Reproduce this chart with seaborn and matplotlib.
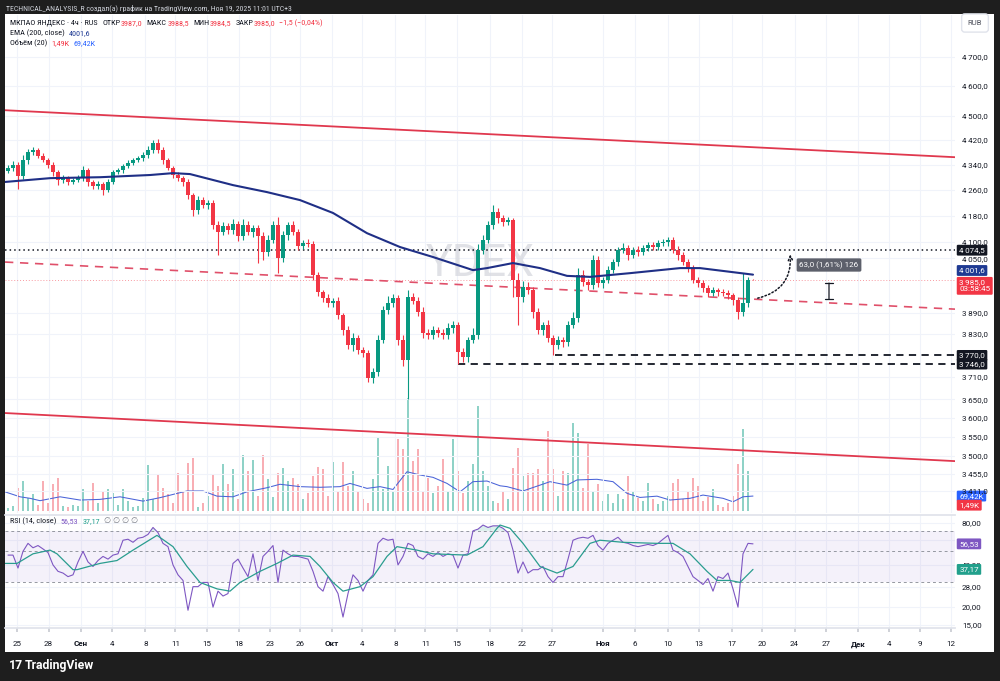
import numpy as np
import matplotlib
matplotlib.use("Agg")
import matplotlib.pyplot as plt
import seaborn as sns
from matplotlib.patches import Rectangle, FancyArrowPatch
from matplotlib.ticker import NullLocator

# ------------------------------------------------------
# Data read off the 4h MOEX:YDEX chart (Aug 22 .. Nov 19)
# ------------------------------------------------------
first_open = 4320
close = [4330, 4340, 4303, 4355, 4380, 4387, 4368, 4355, 4340, 4316,
         4291, 4297, 4285, 4291, 4297, 4323, 4285, 4272, 4278, 4260,
         4285, 4316, 4323, 4336, 4346, 4355, 4361, 4371, 4387, 4410,
         4387, 4355, 4330, 4307, 4297, 4285, 4244, 4197, 4228, 4212,
         4219, 4150, 4129, 4147, 4135, 4153, 4117, 4150, 4129, 4141,
         4117, 4069, 4105, 4150, 4051, 4120, 4150, 4129, 4087, 4096,
         4093, 4000, 3950, 3933, 3920, 3925, 3883, 3841, 3799, 3818,
         3785, 3776, 3707, 3724, 3813, 3898, 3920, 3933, 3813, 3757,
         3936, 3925, 3892, 3833, 3827, 3841, 3833, 3827, 3846, 3855,
         3779, 3765, 3813, 3827, 4075, 4105, 4150, 4190, 4172, 4160,
         4165, 3986, 3936, 3966, 3956, 3892, 3841, 3855, 3818, 3799,
         3813, 3807, 3855, 3875, 4000, 3980, 3970, 4045, 3977, 3986,
         4015, 4039, 4075, 4081, 4060, 4075, 4069, 4081, 4090, 4084,
         4096, 4099, 4105, 4075, 4060, 4039, 4021, 3986, 3977, 3962,
         3947, 3956, 3950, 3947, 3941, 3927, 3892, 3920, 3987, 3985]
up_wick = [10, 12, 8, 15, 12, 9, 8, 10, 6, 8,
           7, 9, 6, 8, 10, 12, 7, 6, 9, 8,
           10, 8, 6, 7, 9, 6, 8, 10, 12, 9,
           14, 10, 8, 6, 9, 7, 8, 6, 12, 10,
           9, 8, 14, 12, 10, 15, 9, 18, 12, 10,
           11, 12, 16, 12, 25, 14, 10, 12, 9, 10,
           12, 8, 10, 6, 12, 8, 10, 8, 12, 15,
           10, 8, 9, 12, 14, 12, 18, 12, 10, 14,
           20, 12, 10, 14, 10, 12, 9, 10, 14, 12,
           8, 12, 10, 20, 18, 16, 14, 22, 14, 10,
           12, 8, 20, 16, 14, 10, 12, 10, 14, 8,
           12, 10, 12, 18, 20, 14, 10, 16, 12, 10,
           12, 10, 8, 14, 10, 9, 12, 10, 8, 9,
           8, 10, 9, 10, 12, 8, 10, 9, 10, 8,
           9, 8, 7, 8, 10, 6, 10, 86, 8, 1.5]
low_wick = [8, 10, 40, 8, 12, 10, 7, 8, 10, 12,
            15, 9, 10, 8, 6, 10, 12, 8, 9, 16,
            8, 7, 6, 9, 8, 6, 7, 8, 9, 8,
            10, 12, 8, 9, 10, 12, 14, 18, 12, 10,
            12, 10, 69, 10, 12, 10, 14, 12, 10, 16,
            80, 25, 12, 10, 45, 12, 14, 10, 12, 10,
            10, 14, 12, 10, 14, 12, 10, 14, 12, 16,
            12, 10, 10, 14, 10, 8, 10, 12, 14, 17,
            107, 10, 12, 14, 10, 12, 10, 12, 10, 14,
            33, 14, 12, 8, 10, 12, 8, 10, 14, 12,
            10, 50, 81, 14, 12, 16, 12, 14, 10, 29,
            12, 14, 10, 8, 10, 12, 14, 10, 12, 14,
            10, 8, 12, 10, 14, 10, 12, 10, 9, 10,
            8, 10, 12, 10, 14, 10, 12, 10, 12, 10,
            10, 9, 10, 8, 12, 14, 20, 10, 12, 0.5]
volume_k = [14, 23, 106, 139, 60, 79, 28, 139, 37, 125,
            153, 23, 19, 28, 23, 102, 46, 130, 37, 93,
            102, 83, 28, 102, 46, 19, 23, 60, 213, 56,
            167, 106, 79, 37, 176, 93, 222, 245, 19, 37,
            69, 171, 116, 218, 125, 194, 56, 259, 185, 236,
            69, 259, 148, 65, 176, 199, 139, 153, 125, 56,
            83, 162, 204, 194, 69, 227, 93, 227, 116, 185,
            93, 56, 37, 148, 343, 102, 208, 93, 333, 287,
            523, 231, 287, 93, 153, 83, 116, 241, 93, 333,
            185, 83, 139, 218, 486, 185, 116, 46, 37, 93,
            56, 199, 292, 162, 176, 176, 194, 139, 370, 194,
            69, 185, 176, 407, 361, 106, 310, 93, 125, 46,
            79, 37, 79, 56, 162, 93, 60, 46, 130, 56,
            32, 46, 69, 130, 148, 56, 93, 153, 116, 46,
            65, 102, 28, 19, 37, 69, 218, 380, 185, 1.49]
rsi = [47, 47, 38, 50, 57, 53, 55, 52, 49, 40,
       36, 35, 33, 34, 42, 50, 42, 39, 43, 46,
       44, 47, 48, 60, 61, 58, 62, 63, 66, 74,
       68, 57, 54, 40, 34, 31, 19, 28, 28, 30,
       30, 20, 26, 24, 25, 41, 44, 38, 33, 48,
       31, 46, 50, 55, 30, 51, 48, 46, 46, 45,
       44, 36, 28, 26, 33, 29, 25, 17, 25, 34,
       31, 26, 31, 34, 57, 62, 60, 61, 40, 46,
       57, 55, 46, 44, 48, 46, 49, 46, 48, 47,
       38, 47, 48, 70, 72, 77, 74, 76, 76, 73,
       68, 51, 35, 42, 35, 37, 37, 39, 33, 30,
       33, 33, 44, 60, 62, 63, 62, 65, 55, 51,
       57, 60, 63, 58, 57, 55, 54, 55, 56, 55,
       57, 61, 65, 51, 49, 46, 39, 33, 31, 29,
       32, 26, 33, 32, 35, 27, 20, 48, 57, 56.53]

ema_x = [-0.6, 8.4, 18.4, 28.4, 33, 36.4, 45, 51.8, 58.4, 65, 71.8, 78.4,
         85, 93, 95.8, 101, 106.4, 111.8, 116.4, 124.4, 134.4, 138.4, 149]
ema_200 = [4285, 4297, 4300, 4307, 4313, 4310, 4275, 4253, 4228, 4188, 4126, 4084,
           4054, 4015, 4021, 4036, 4021, 3998, 3995, 4006, 4021, 4021, 4001.6]
vol_ma_x = [-0.6, 2.4, 4.4, 6.4, 10.4, 14.4, 18.4, 22.4, 27, 30.4,
            35.8, 39, 41.8, 45, 47.8, 51.8, 54.4, 58.4, 62.4, 66.4,
            68.4, 71.8, 74.4, 77, 79.8, 82.4, 85, 87.8, 90.4, 93,
            95.8, 98.4, 99.8, 103, 106.4, 108.4, 111.8, 113.8, 117.8, 121,
            123.8, 126.4, 129.8, 132.4, 136.4, 139, 143, 145, 147, 149]
vol_ma = [89, 66, 59, 48, 66, 51, 54, 66, 46, 62,
          93, 93, 69, 66, 89, 108, 124, 113, 110, 113,
          128, 105, 113, 100, 182, 167, 156, 128, 89, 136,
          139, 117, 113, 93, 120, 136, 120, 144, 147, 136,
          82, 63, 69, 51, 59, 74, 59, 43, 66, 69.42]
rsi_ma_x = [-0.6, 1.8, 5, 8.4, 9.8, 13, 13.8, 18.4, 21.8, 25,
            29.8, 33, 35.8, 38.4, 41.8, 44.4, 46.4, 50.4, 53.8, 57,
            60.4, 62.4, 65, 67, 70.4, 73, 75.8, 77.8, 81.8, 85,
            91.8, 95, 97.8, 98.4, 100.4, 103, 106.4, 109.8, 113, 116.4,
            118.4, 123, 129.8, 133, 136.4, 139.8, 141.8, 144.4, 146.4, 149]
rsi_ma = [41, 41, 48, 51, 48, 37, 37, 41, 43, 51,
          65, 54, 39, 30, 27, 26, 30, 36, 41, 47,
          46, 39, 30, 26, 28, 33, 46, 54, 51, 48,
          47, 54, 73, 77, 73, 57, 39, 35, 39, 57,
          60, 58, 57, 57, 48, 36, 31, 31, 30, 37.17]

price_ticks = [4700, 4600, 4500, 4420, 4340, 4260, 4180, 4100, 4050,
               3890, 3830, 3710, 3650, 3600, 3550, 3500, 3455, 3411]
rsi_ticks = [80, 60, 40, 28, 20, 15]
rsi_hidden = [60]          # label covered by the RSI value tag
date_pos = [1.84, 8.1, 14.6, 20.72, 27.48, 33.48, 39.86, 46.24, 52.48, 58.48,
            64.72, 70.72, 77.48, 83.48, 89.86, 96.36, 102.74, 108.86, 118.94, 125.32,
            131.94, 138.2, 144.7, 150.82, 157.32, 163.58, 169.96, 176.2, 182.32, 188.58]
date_labels = ["25", "28", "Сен", "4", "8", "11", "15", "18", "23", "26",
               "Окт", "4", "8", "11", "15", "18", "22", "27", "Ноя", "6",
               "10", "13", "17", "20", "24", "27", "Дек", "4", "9", "12"]
months = ["Сен", "Окт", "Ноя", "Дек"]

# drawings
channel_x = [-0.6, 189.4]
channel_upper = [4518, 4364]
channel_mid = [4039, 3901]
channel_lower = [3613, 3487]
resistance = 4074.5
support_lvls = [3770, 3746]
support_from = [109.4, 90]
last_price = 3985
measure_bar = 164.2
measure_lo, measure_hi = 3922, 3985
path_from = (149.4, 3931)
path_to = (156.4, 4070)

# ------------------------------------------------------
# styling
# ------------------------------------------------------
sns.set_theme(style="white")
plt.rcParams["font.family"] = ["Roboto", "DejaVu Sans"]
NARROW = ["Liberation Sans Narrow", "Roboto Condensed", "Roboto", "DejaVu Sans"]

UP, DOWN = "#089981", "#f23645"
INK = "#131722"
GRID = "#f0f3fa"
W, H = 1000, 681


def box(x0, y0, x1, y1):
    return [x0 / W, 1 - y1 / H, (x1 - x0) / W, (y1 - y0) / H]


def fmt(v, d=1, sep="\u2009"):
    return f"{v:,.{d}f}".replace(",", sep).replace(".", ",")


fig = plt.figure(figsize=(10, 6.81), dpi=100, facecolor="#1e1e1e")
fig.patches.append(Rectangle((5 / W, 1 - 652 / H), 989 / W, 638 / H,
                             transform=fig.transFigure, facecolor="white",
                             edgecolor="none", zorder=-10))

ax = fig.add_axes(box(5, 15, 955, 513))
axv = ax.twinx()
ax_r = fig.add_axes(box(5, 515, 955, 628), sharex=ax)
ax.set_zorder(axv.get_zorder() + 1)
for a in (ax, axv, ax_r):
    a.patch.set_visible(False)
    for s in a.spines.values():
        s.set_visible(False)

# ------------------------------------------------------
# candles
# ------------------------------------------------------
c = np.array(close, dtype=float)
o = np.r_[first_open, c[:-1]]
idx = np.arange(len(c))
rising = c >= o
cols = np.where(rising, UP, DOWN)
b_lo, b_hi = np.minimum(o, c), np.maximum(o, c)
hi = b_hi + np.array(up_wick)
lo = b_lo - np.array(low_wick)

ax.set_yscale("log")
ax.vlines(idx, lo, hi, colors=cols, lw=0.8, zorder=4)
ax.bar(idx, np.maximum(b_hi - b_lo, 0.6), bottom=b_lo, width=0.7, color=cols,
       linewidth=0, zorder=5)

sns.lineplot(x=ema_x, y=ema_200, ax=ax, color="#1f2f86", lw=1.5, sort=False,
             estimator=None, zorder=6)

# channel + levels
ax.plot(channel_x, channel_upper, color="#e0384e", lw=1.3, zorder=3)
ax.plot(channel_x, channel_lower, color="#e0384e", lw=1.3, zorder=3)
ax.plot(channel_x, channel_mid, color="#e0506a", lw=1.2, dashes=(5, 4), zorder=3)
ax.axhline(resistance, color=INK, lw=1.1, ls=(0, (1, 2)), zorder=3)
ax.axhline(last_price, color=DOWN, lw=0.7, ls=(0, (1, 2)), alpha=0.5, zorder=2)
for lvl, x0 in zip(support_lvls, support_from):
    ax.hlines(lvl, x0, channel_x[1], color=INK, lw=1.3, linestyles=(0, (4, 3)), zorder=3)

# projected move
ax.add_patch(FancyArrowPatch(path_from, path_to, connectionstyle="arc3,rad=0.45",
                             arrowstyle="->", mutation_scale=8, lw=1.1,
                             linestyle=(0, (1, 1.5)), color=INK, zorder=7))
ax.annotate("", xy=(measure_bar, measure_hi), xytext=(measure_bar, measure_lo),
            arrowprops=dict(arrowstyle="|-|,widthA=0.25,widthB=0.25", color=INK, lw=0.9),
            zorder=7)
ax.annotate(f"{fmt(measure_hi - measure_lo)} ({fmt((measure_hi - measure_lo) / measure_lo * 100, 2)}%) 126",
            xy=(measure_bar, measure_hi), xytext=(0, 11), textcoords="offset points",
            ha="center", va="center", fontsize=5.8, color="white",
            bbox=dict(boxstyle="round,pad=0.35,rounding_size=0.2", fc="#5d606b", ec="none"),
            zorder=8)

ax.text(0.5, 0.5, "YDEX", transform=ax.transAxes, ha="center", va="center",
        fontsize=32, color="#d6d8de", alpha=0.75, zorder=1)

ax.set_ylim(3356, 4847)
ax.set_xlim(channel_x)
ax.set_yticks(price_ticks)
ax.set_yticklabels([fmt(v) for v in price_ticks])
ax.yaxis.set_minor_locator(NullLocator())
ax.yaxis.tick_right()
ax.tick_params(axis="y", length=0, pad=5, labelsize=5.8, labelcolor=INK)
ax.tick_params(axis="x", length=0, labelbottom=False)
ax.grid(True, color=GRID, lw=0.8)
ax.set_xlabel("")
ax.set_ylabel("")

# ------------------------------------------------------
# volume overlay
# ------------------------------------------------------
vcols = np.where(rising, "#8fd2c7", "#f8aeb4")
axv.bar(idx, volume_k, width=0.45, color=vcols, linewidth=0)
sns.lineplot(x=vol_ma_x, y=vol_ma, ax=axv, color="#4a63d8", lw=0.75, sort=False,
             estimator=None)
axv.set_ylim(-9, 2296)
axv.set_yticks([])
axv.set_ylabel("")
axv.grid(False)

# ------------------------------------------------------
# RSI pane
# ------------------------------------------------------
ax_r.set_yscale("log")
ax_r.axhspan(30, 70, color="#7e57c2", alpha=0.08, lw=0)
for lvl in (70, 50, 30):
    ax_r.axhline(lvl, color="#9598a1", lw=0.7, dashes=(3, 3))
r = np.array(rsi)
ax_r.fill_between(idx, 70, r, where=r > 70, interpolate=True, color=UP, alpha=0.15, lw=0)
sns.lineplot(x=idx, y=rsi, ax=ax_r, color="#7e57c2", lw=0.8)
sns.lineplot(x=rsi_ma_x, y=rsi_ma, ax=ax_r, color="#2a9d8f", lw=0.9, sort=False,
             estimator=None)
ax_r.set_ylim(14.2, 90.8)
ax_r.set_yticks(rsi_ticks)
ax_r.set_yticklabels(["" if v in rsi_hidden else fmt(v, 2) for v in rsi_ticks])
ax_r.yaxis.set_minor_locator(NullLocator())
ax_r.yaxis.tick_right()
ax_r.tick_params(axis="y", length=0, pad=5, labelsize=5.8, labelcolor=INK)
ax_r.set_xticks(date_pos)
ax_r.set_xticklabels(date_labels)
ax_r.tick_params(axis="x", length=3, color="#c9ccd3", pad=6, labelsize=5.8,
                 labelcolor=INK, bottom=True)
for t in ax_r.get_xticklabels():
    if t.get_text() in months:
        t.set_fontweight("bold")
ax_r.grid(True, color=GRID, lw=0.8)
ax_r.spines["top"].set_visible(True)
ax_r.spines["top"].set_color("#e0e3eb")
ax_r.spines["bottom"].set_visible(True)
ax_r.spines["bottom"].set_color("#e0e3eb")
ax_r.set_xlabel("")
ax_r.set_ylabel("")
ax_r.set_xlim(channel_x)


# ------------------------------------------------------
# price-scale tags
# ------------------------------------------------------
def tag(a, y, text, fc, dy=0, tc="white"):
    a.annotate(text, xy=(1, y), xycoords=a.get_yaxis_transform(), xytext=(3, dy),
               textcoords="offset points", ha="left", va="center", fontsize=5.8,
               color=tc, annotation_clip=False, zorder=30,
               bbox=dict(boxstyle="round,pad=0.3,rounding_size=0.15", fc=fc, ec="none"))


tag(ax, resistance, fmt(resistance), INK)
tag(ax, ema_200[-1], fmt(ema_200[-1]), "#1f3a93", dy=3)
tag(ax, last_price, fmt(last_price) + "\n03:58:45", DOWN, dy=-4)
for lvl in support_lvls:
    tag(ax, lvl, fmt(lvl), INK)
tag(axv, vol_ma[-1], fmt(vol_ma[-1], 2) + "K", "#2962ff")
tag(axv, volume_k[-1], fmt(volume_k[-1], 2) + "K", DOWN, dy=4)
tag(ax_r, rsi[-1], fmt(rsi[-1], 2), "#7e57c2")
tag(ax_r, rsi_ma[-1], fmt(rsi_ma[-1], 2), "#22a08c")
ax.annotate("RUB", xy=(975 / W, 1 - 23 / H), xycoords="figure fraction", ha="center",
            va="center", fontsize=5.5, color="#50535e", annotation_clip=False,
            bbox=dict(boxstyle="round,pad=0.8,rounding_size=0.4", fc="white", ec="#e0e3eb"))


# ------------------------------------------------------
# legends / header text: pieces share one baseline, placed left to right
# ------------------------------------------------------
renderer = fig.canvas.get_renderer()


def chain(x, y, parts, size=5.9, weight="normal", family=NARROW):
    xp = x
    for s, col, gap in parts:
        xp += gap * fig.dpi / 72
        t = fig.text(xp / W, 1 - y / H, s, color=col, fontsize=size, ha="left",
                     va="baseline", fontweight=weight, family=family)
        xp = t.get_window_extent(renderer).x1


fig.text(6 / W, 1 - 10 / H,
         "TECHNICAL_ANALYSIS_R создал(а) график на TradingView.com, Ноя 19, 2025 11:01 UTC+3",
         color="#d1d4dc", fontsize=5.6, ha="left", va="baseline", family=NARROW)
chain(10, 25, [("МКПАО ЯНДЕКС · 4ч · RUS", INK, 0), ("ОТКР", INK, 3.5), ("3987,0", DOWN, 0.3),
               ("МАКС", INK, 3), ("3988,5", DOWN, 0.3), ("МИН", INK, 3), ("3984,5", DOWN, 0.3),
               ("ЗАКР", INK, 3), ("3985,0", DOWN, 0.3), ("−1,5 (−0,04%)", DOWN, 3)])
chain(10, 35, [("EMA (200, close)", INK, 0), (fmt(ema_200[-1], sep=""), "#1f3a93", 3)])
chain(10, 45, [("Объём (20)", INK, 0), ("1,49K", DOWN, 3), ("69,42K", "#2962ff", 3)])
chain(10, 523, [("RSI (14, close)", INK, 0), (fmt(rsi[-1], 2), "#7e57c2", 3),
                (fmt(rsi_ma[-1], 2), "#22a08c", 3), ("∅ ∅ ∅ ∅", "#787b86", 3)],
      family=NARROW + ["DejaVu Sans"])
chain(9, 669, [("17", "white", 0), ("TradingView", "white", 1.5)], size=8.8,
      weight="bold", family=["Roboto", "DejaVu Sans"])

fig.savefig("out.png", dpi=100, facecolor=fig.get_facecolor())
plt.close()
